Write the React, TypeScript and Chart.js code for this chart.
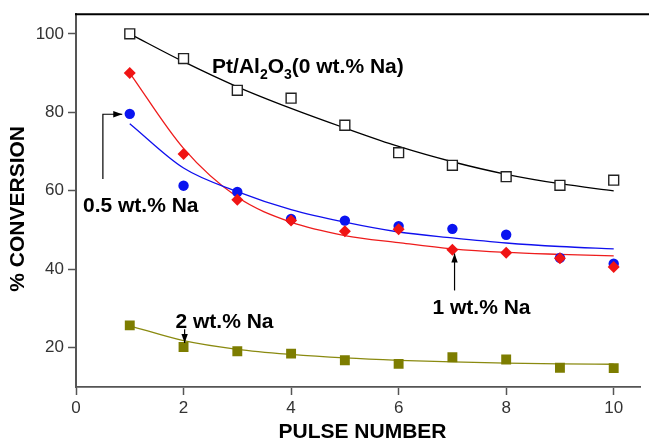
import React, { useEffect, useRef } from "react";
import { Chart, registerables } from "chart.js";

Chart.register(...registerables);

// ---- data ----
const pulses = [1, 2, 3, 4, 5, 6, 7, 8, 9, 10];
const pt0Na = [100, 93.7, 85.6, 83.6, 76.7, 69.7, 66.5, 63.6, 61.4, 62.7];
const pt05Na = [79.6, 61.3, 59.7, 52.8, 52.4, 51.0, 50.3, 48.8, 42.9, 41.4];
const pt1Na = [90.0, 69.4, 57.7, 52.4, 49.7, 50.2, 45.0, 44.2, 42.8, 40.6];
const pt2Na = [25.7, 20.2, 19.1, 18.5, 16.8, 15.9, 17.6, 17.0, 14.9, 14.8];
const fit0Na = [100, 92.9, 86.5, 81.0, 76.0, 71.3, 67.4, 64.2, 61.8, 60.0];
const fit05Na = [77.1, 65.8, 59.8, 55.2, 52.0, 49.5, 48.0, 46.7, 45.8, 45.2];
const fit1Na = [90.0, 70.8, 58.4, 52.0, 48.6, 46.8, 45.2, 44.3, 43.8, 43.4];
const fit2Na = [25.6, 21.8, 19.6, 18.3, 17.4, 16.8, 16.4, 16.1, 15.9, 15.8];
const xTicks = [0, 2, 4, 6, 8, 10];
const yTicks = [20, 40, 60, 80, 100];
const xTitle = "PULSE NUMBER";
const yTitle = "% CONVERSION";

const FONT = "'Liberation Sans', Arial, Helvetica, sans-serif";

const pts = (ys: number[]) => pulses.map((x, i) => ({ x, y: ys[i] }));

function drawArrow(ctx: CanvasRenderingContext2D, path: [number, number][]) {
  ctx.beginPath();
  ctx.moveTo(path[0][0], path[0][1]);
  for (let i = 1; i < path.length; i++) ctx.lineTo(path[i][0], path[i][1]);
  ctx.stroke();
  const [x2, y2] = path[path.length - 1];
  const [x1, y1] = path[path.length - 2];
  const a = Math.atan2(y2 - y1, x2 - x1);
  const len = 9, w = 3.2;
  ctx.beginPath();
  ctx.moveTo(x2, y2);
  ctx.lineTo(x2 - len * Math.cos(a) + w * Math.sin(a), y2 - len * Math.sin(a) - w * Math.cos(a));
  ctx.lineTo(x2 - len * Math.cos(a) - w * Math.sin(a), y2 - len * Math.sin(a) + w * Math.cos(a));
  ctx.closePath();
  ctx.fill();
}

function drawRich(ctx: CanvasRenderingContext2D, parts: [string, boolean][], x: number, y: number) {
  let cx = x;
  for (const [t, sub] of parts) {
    ctx.font = sub ? `bold 14px ${FONT}` : `bold 21px ${FONT}`;
    ctx.fillText(t, cx, sub ? y + 6 : y);
    cx += ctx.measureText(t).width;
  }
}

const annotPlugin = {
  id: "annot",
  afterDatasetsDraw(chart: any) {
    const { ctx, chartArea } = chart;
    const xs = chart.scales.x;
    const ys = chart.scales.y;
    const X = (v: number) => xs.getPixelForValue(v);
    const Y = (v: number) => ys.getPixelForValue(v);
    ctx.save();
    // top frame line
    ctx.strokeStyle = "#000";
    ctx.lineWidth = 2;
    ctx.beginPath();
    ctx.moveTo(chartArea.left - 1, chartArea.top);
    ctx.lineTo(chart.width, chartArea.top);
    ctx.stroke();

    ctx.fillStyle = "#000";
    ctx.textBaseline = "alphabetic";
    ctx.textAlign = "left";
    drawRich(ctx, [["Pt/Al", false], ["2", true], ["O", false], ["3", true], ["(0 wt.% Na)", false]], X(2.53), Y(90));
    ctx.font = `bold 21px ${FONT}`;
    ctx.fillText("0.5 wt.% Na", X(0.13), Y(54.6));
    ctx.fillText("1 wt.% Na", X(6.63), Y(28.5));
    ctx.fillText("2 wt.% Na", X(1.85), Y(25));

    ctx.lineWidth = 1.2;
    ctx.strokeStyle = "#000";
    drawArrow(ctx, [[X(0.5), Y(63)], [X(0.5), Y(79.5)], [X(0.86), Y(79.5)]]);
    drawArrow(ctx, [[X(7.04), Y(34.6)], [X(7.04), Y(44)]]);
    drawArrow(ctx, [[X(2.02), Y(24.7)], [X(2.02), Y(21.2)]]);

    // axis titles
    ctx.font = `bold 21px ${FONT}`;
    ctx.textAlign = "center";
    ctx.textBaseline = "middle";
    ctx.fillText(xTitle, (chartArea.left + chart.width) / 2, chartArea.bottom + 45);
    ctx.translate(chartArea.left - 58, Y(55.4));
    ctx.rotate(-Math.PI / 2);
    ctx.fillText(yTitle, 0, 0);
    ctx.restore();
  },
};

export default function App() {
  const ref = useRef<HTMLCanvasElement | null>(null);
  useEffect(() => {
    if (!ref.current) return;
    const fitLine = (data: number[], color: string) => ({
      type: "scatter" as const,
      data: pts(data),
      showLine: true,
      borderColor: color,
      borderWidth: 1.3,
      pointRadius: 0,
      cubicInterpolationMode: "monotone" as const,
      order: 10,
    });
    const chart = new Chart(ref.current, {
      type: "scatter",
      data: {
        datasets: [
          fitLine(fit0Na, "#000000"),
          fitLine(fit05Na, "#1010ee"),
          fitLine(fit1Na, "#ee1c1c"),
          fitLine(fit2Na, "#8a8a10"),
          {
            data: pts(pt0Na),
            pointStyle: "rect",
            pointRadius: 7,
            pointBorderWidth: 1.4,
            pointBorderColor: "#222",
            pointBackgroundColor: "#ffffff",
            order: 1,
          },
          {
            data: pts(pt05Na),
            pointStyle: "circle",
            pointRadius: 5.2,
            pointBorderWidth: 0,
            pointBackgroundColor: "#0a14f0",
            pointBorderColor: "#0a14f0",
            order: 3,
          },
          {
            data: pts(pt1Na),
            pointStyle: "rectRot",
            pointRadius: 6,
            pointBorderWidth: 0,
            pointBackgroundColor: "#f01414",
            pointBorderColor: "#f01414",
            order: 2,
          },
          {
            data: pts(pt2Na),
            pointStyle: "rect",
            pointRadius: 7,
            pointBorderWidth: 0,
            pointBackgroundColor: "#7d7d00",
            pointBorderColor: "#7d7d00",
            order: 1,
          },
        ] as any,
      },
      options: {
        animation: false,
        responsive: false,
        layout: { padding: { top: 13, right: 0, left: 0, bottom: 0 } },
        plugins: { legend: { display: false }, tooltip: { enabled: false } },
        scales: {
          x: {
            type: "linear",
            min: 0,
            max: 10.5,
            afterBuildTicks: (axis: any) => {
              axis.ticks = xTicks.map((v) => ({ value: v }));
            },
            afterFit: (s: any) => {
              s.height = 54;
            },
            grid: { display: true, drawOnChartArea: false, drawTicks: true, tickLength: 8, tickColor: "#555", tickWidth: 1.5 },
            border: { display: true, color: "#555", width: 1.8 },
            ticks: { color: "#333", font: { family: FONT, size: 17 }, padding: 3, maxRotation: 0 },
          },
          y: {
            type: "linear",
            min: 10,
            max: 105,
            afterBuildTicks: (axis: any) => {
              axis.ticks = yTicks.map((v) => ({ value: v }));
            },
            afterFit: (s: any) => {
              s.width = 76;
            },
            grid: { display: true, drawOnChartArea: false, drawTicks: true, tickLength: 8, tickColor: "#555", tickWidth: 1.5 },
            border: { display: true, color: "#555", width: 2 },
            ticks: { color: "#333", font: { family: FONT, size: 17 }, padding: 4 },
          },
        },
      } as any,
      plugins: [annotPlugin],
    });
    return () => chart.destroy();
  }, []);
  return (
    <div style={{ position: "fixed", left: 0, top: 0, width: 649, height: 441, background: "#fff" }}>
      <canvas ref={ref} width={649} height={441} style={{ display: "block" }} />
    </div>
  );
}
